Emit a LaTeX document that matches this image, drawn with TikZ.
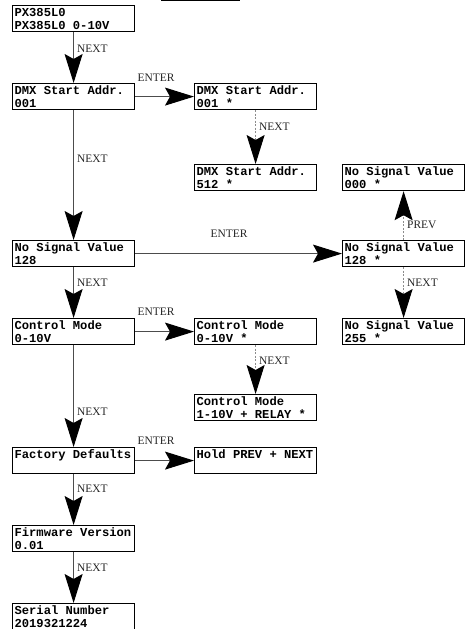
\documentclass[tikz,border=0pt]{standalone}
\usepackage{fontspec}
\newfontfamily\lcdfont{Liberation Mono}
\newfontfamily\lblfont{Liberation Serif}
\newcommand\lcdset{\lcdfont\bfseries\fontsize{12.2}{13}\selectfont}
\newcommand\wsp{\hspace*{0.6em}}
\usetikzlibrary{arrows.meta}
\begin{document}
\begin{tikzpicture}[x=1bp,y=-1bp,
  lcd/.style={draw=black, line width=1.2bp, rectangle, minimum width=122bp, minimum height=26bp,
    text width=118bp, inner xsep=2bp, inner ysep=0.5bp, align=left, anchor=north west,
    font=\lcdset},
  conn/.style={draw=black!70, line width=1bp, -{Stealth[length=29bp,width=18bp,inset=5bp,black]}},
  dconn/.style={conn, draw=black!45, dash pattern=on 2bp off 1.5bp},
  lbl/.style={font=\lblfont\fontsize{11.5}{12}\selectfont, text=black!85, inner sep=0pt}]
\useasboundingbox (0,0) rectangle (472,629);
\draw[line width=1bp] (161,1) -- (240,1);
% column 1
\node[lcd] (px)  at (12,5)   {PX385L0\\PX385L0\wsp 0-10V};
\node[lcd] (dmx) at (12,83)  {DMX\wsp Start\wsp Addr.\\001};
\node[lcd] (ns)  at (12,240) {No\wsp Signal\wsp Value\\128};
\node[lcd] (cm)  at (12,318) {Control\wsp Mode\\0-10V};
\node[lcd] (fd)  at (12,447) {Factory\wsp Defaults\\\mbox{}};
\node[lcd] (fw)  at (12,525) {Firmware\wsp Version\\0.01};
\node[lcd] (sn)  at (12,603) {Serial\wsp Number\\2019321224};
% column 2
\node[lcd] (dmxa) at (194,83)  {DMX\wsp Start\wsp Addr.\\001\wsp *};
\node[lcd] (dmxb) at (194,164) {DMX\wsp Start\wsp Addr.\\512\wsp *};
\node[lcd] (cma)  at (194,318) {Control\wsp Mode\\0-10V\wsp *};
\node[lcd] (cmb)  at (194,394) {Control\wsp Mode\\1-10V\wsp +\wsp RELAY\wsp *};
\node[lcd] (hold) at (194,447) {Hold\wsp PREV\wsp +\wsp NEXT\\\mbox{}};
% column 3
\node[lcd] (nsl) at (342,164) {No\wsp Signal\wsp Value\\000\wsp *};
\node[lcd] (nsa) at (342,240) {No\wsp Signal\wsp Value\\128\wsp *};
\node[lcd] (nsh) at (342,318) {No\wsp Signal\wsp Value\\255\wsp *};
% connectors
\draw[conn] (px) -- (dmx);
\draw[conn] (dmx) -- (ns);
\draw[conn] (ns) -- (cm);
\draw[conn] (cm) -- (fd);
\draw[conn] (fd) -- (fw);
\draw[conn] (fw) -- (sn);
\draw[conn] (dmx) -- (dmxa);
\draw[conn] (ns) -- (nsa);
\draw[conn] (cm) -- (cma);
\draw[conn] (fd) -- (hold);
\draw[dconn] (dmxa) -- (dmxb);
\draw[dconn] (cma) -- (cmb);
\draw[dconn] (nsa) -- (nsl);
\draw[dconn] (nsa) -- (nsh);
% labels
\node[lbl, anchor=west] (l1) at (77,49)  {NEXT};
\node[lbl, anchor=west] (l2) at (77,159) {NEXT};
\node[lbl, anchor=west] (l3) at (77,283) {NEXT};
\node[lbl, anchor=west] (l4) at (77,412) {NEXT};
\node[lbl, anchor=west] (l5) at (77,489) {NEXT};
\node[lbl, anchor=west] (l6) at (77,568) {NEXT};
\node[lbl, anchor=west] (l7) at (259,127) {NEXT};
\node[lbl, anchor=west] (l8) at (259,361) {NEXT};
\node[lbl, anchor=west] (l9) at (407,283) {NEXT};
\node[lbl, anchor=west] (l10) at (407,225) {PREV};
\node[lbl] (e1) at (156,78)  {ENTER};
\node[lbl] (e2) at (229,234) {ENTER};
\node[lbl] (e3) at (156,312) {ENTER};
\node[lbl] (e4) at (156,441) {ENTER};
\end{tikzpicture}
\end{document}
